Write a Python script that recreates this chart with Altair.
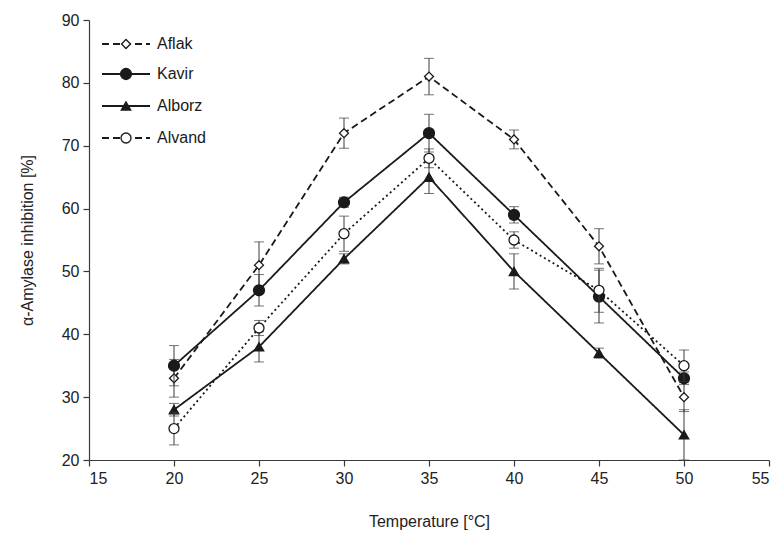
import altair as alt
import pandas as pd

temps = [20, 25, 30, 35, 40, 45, 50]
series_names = ["Aflak", "Kavir", "Alborz", "Alvand"]
aflak = [33, 51, 72, 81, 71, 54, 30]
kavir = [35, 47, 61, 72, 59, 46, 33]
alborz = [28, 38, 52, 65, 50, 37, 24]
alvand = [25, 41, 56, 68, 55, 47, 35]
aflak_err = [3.0, 3.7, 2.4, 2.9, 1.5, 2.8, 2.3]
kavir_err = [3.2, 2.5, 0.8, 3.0, 1.3, 4.2, 1.0]
alborz_err = [1.0, 2.4, 0.8, 2.6, 2.8, 0.8, 4.0]
alvand_err = [2.6, 1.2, 2.8, 1.5, 1.3, 3.5, 2.5]

values = [aflak, kavir, alborz, alvand]
errors = [aflak_err, kavir_err, alborz_err, alvand_err]

styles = {
    "Aflak": dict(dash=[7, 4], legdash=[7, 4], shape="diamond", filled=False, size=80),
    "Kavir": dict(dash=[1, 0], legdash=[1, 0], shape="circle", filled=True, size=120),
    "Alborz": dict(dash=[1, 0], legdash=[1, 0], shape="triangle-up", filled=True, size=90),
    "Alvand": dict(dash=[2, 3], legdash=[7, 4], shape="circle", filled=False, size=100),
}

INK = "#1a1a1a"
AXIS = "#3a3a3a"
FONT = "Liberation Sans"

xscale = alt.Scale(domain=[15, 55], nice=False, zero=False)
yscale = alt.Scale(domain=[20, 90], nice=False, zero=False)

xaxis = alt.Axis(values=[15, 20, 25, 30, 35, 40, 45, 50, 55], grid=False,
                 title="Temperature [°C]", titlePadding=27)
yaxis = alt.Axis(values=[20, 30, 40, 50, 60, 70, 80, 90], grid=False,
                 title="α-Amylase inhibition [%]", titlePadding=26)

layers = []
for name, vals, errs in zip(series_names, values, errors):
    st = styles[name]
    df = pd.DataFrame({
        "T": temps,
        "v": vals,
        "lo": [v - e for v, e in zip(vals, errs)],
        "hi": [v + e for v, e in zip(vals, errs)],
    })
    base = alt.Chart(df)
    line = base.mark_line(color=INK, strokeWidth=1.8, strokeDash=st["dash"]).encode(
        x=alt.X("T:Q", scale=xscale, axis=xaxis),
        y=alt.Y("v:Q", scale=yscale, axis=yaxis),
    )
    rule = base.mark_rule(color=AXIS, strokeWidth=1).encode(
        x="T:Q", y="lo:Q", y2="hi:Q")
    cap_lo = base.mark_tick(color=AXIS, orient="horizontal", size=10, thickness=1).encode(
        x="T:Q", y="lo:Q")
    cap_hi = base.mark_tick(color=AXIS, orient="horizontal", size=10, thickness=1).encode(
        x="T:Q", y="hi:Q")
    pt = base.mark_point(shape=st["shape"], filled=True,
                         fill=INK if st["filled"] else "white",
                         stroke=INK, strokeWidth=1.3, size=st["size"], opacity=1).encode(
        x="T:Q", y="v:Q")
    layers += [line, rule, cap_lo, cap_hi, pt]

# manual legend in top-left corner
leg_y = [24, 54, 86, 118]
for name, yy in zip(series_names, leg_y):
    st = styles[name]
    ldf = pd.DataFrame({"label": [name]})
    b = alt.Chart(ldf)
    layers.append(b.mark_rule(color=INK, strokeWidth=1.8, strokeDash=st["legdash"]).encode(
        x=alt.value(13), x2=alt.value(61), y=alt.value(yy)))
    layers.append(b.mark_point(shape=st["shape"], filled=True,
                               fill=INK if st["filled"] else "white",
                               stroke=INK, strokeWidth=1.3, size=st["size"], opacity=1).encode(
        x=alt.value(37), y=alt.value(yy)))
    layers.append(b.mark_text(align="left", baseline="middle", font=FONT, fontSize=16,
                              color=INK).encode(
        x=alt.value(68), y=alt.value(yy), text="label:N"))

chart = alt.layer(*layers).properties(
    width=680, height=440,
    autosize=alt.AutoSizeParams(type="none"),
    padding={"left": 81, "top": 12, "right": 4, "bottom": 72},
).configure_view(stroke=None).configure_axis(
    domainColor=AXIS, tickColor=AXIS, domainWidth=1.2, tickWidth=1.2, tickSize=6,
    labelFont=FONT, titleFont=FONT, labelFontSize=16, titleFontSize=16,
    labelColor="#222222", titleColor="#222222", titleFontWeight="normal", labelPadding=4,
)

chart.save("out.html", embed_options={"renderer": "svg", "actions": False})
